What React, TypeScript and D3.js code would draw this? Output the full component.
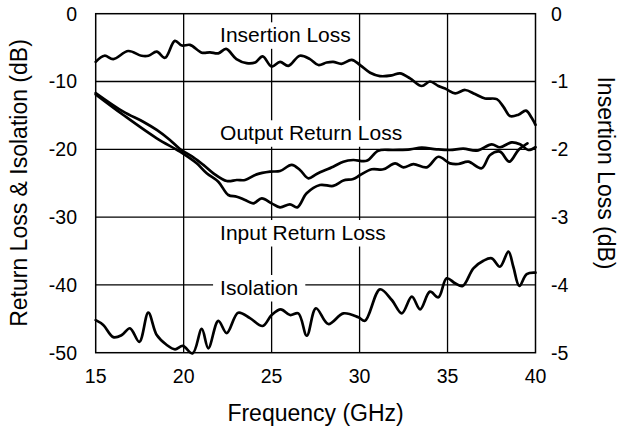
import { useLayoutEffect, useRef, useState } from 'react';
import { curveCatmullRom, line, scaleLinear } from 'd3';

const freqTicks = [15, 20, 25, 30, 35, 40];
const lossTicks = [0, -10, -20, -30, -40, -50];
const insertionTicks = [0, -1, -2, -3, -4, -5];

// insertion loss, read against the right axis (dB)
const insertionFreq = [15, 15.5, 16, 16.85, 17.6, 18, 18.47, 18.94, 19.5, 19.9, 20.36, 21.03, 21.5, 21.97, 22.41, 23, 23.58, 24.06, 24.49, 25, 25.48, 25.95, 26.6, 27.18, 27.66, 28.13, 28.5, 28.97, 29.55, 30.03, 30.6, 31.16, 31.83, 32.3, 32.87, 33.53, 34, 34.48, 34.95, 35.43, 36, 36.56, 37.13, 37.8, 38.17, 38.55, 39.03, 39.46, 39.79, 40];
const insertionLoss = [-0.71, -0.62, -0.67, -0.55, -0.62, -0.62, -0.56, -0.65, -0.4, -0.47, -0.46, -0.575, -0.57, -0.585, -0.52, -0.67, -0.73, -0.72, -0.63, -0.78, -0.71, -0.77, -0.62, -0.67, -0.757, -0.72, -0.71, -0.74, -0.68, -0.757, -0.87, -0.92, -0.91, -0.88, -0.953, -1.066, -1.0, -1.066, -1.116, -1.175, -1.125, -1.185, -1.25, -1.26, -1.37, -1.51, -1.49, -1.43, -1.54, -1.64];

const outputFreq = [15, 16.57, 17.7, 18.47, 19.22, 19.79, 20.55, 21.12, 21.69, 22.45, 23.02, 23.49, 24.15, 24.91, 25.48, 26.14, 26.61, 27.09, 27.56, 28.5, 29.08, 29.64, 30.4, 31.06, 31.92, 32.87, 33.53, 34.38, 35.14, 35.9, 36.66, 37.51, 37.98, 38.65, 39.12, 39.59, 40];
const outputLoss = [-11.7, -14.45, -15.93, -17.15, -18.63, -19.96, -21.18, -22.3, -23.54, -24.68, -24.53, -24.53, -23.7, -23.3, -23.2, -22.3, -23.05, -24.28, -23.64, -22.57, -21.83, -21.58, -21.7, -20.2, -20.1, -20.0, -19.76, -20.0, -20.1, -19.9, -20.2, -19.26, -19.7, -18.97, -19.26, -20.1, -19.7];

const inputFreq = [15, 16.57, 18.47, 19.79, 20.74, 21.31, 21.97, 22.54, 23.02, 23.49, 23.96, 24.44, 25, 25.48, 26.04, 26.46, 26.99, 27.75, 28.5, 29.08, 29.64, 30.03, 30.69, 31.35, 32.02, 32.49, 33.06, 33.82, 34.48, 35.14, 35.61, 36.18, 36.94, 37.42, 37.98, 38.51, 39.03, 39.54];
const inputLoss = [-11.9, -14.94, -18.38, -20.35, -22.07, -23.54, -24.78, -26.74, -26.99, -27.48, -27.97, -27.23, -27.97, -28.56, -28.11, -28.56, -26.49, -25.27, -25.4, -24.6, -24.38, -23.8, -22.95, -22.95, -22.07, -22.66, -22.2, -22.66, -21.1, -22.07, -22.17, -21.83, -22.8, -20.84, -20.35, -21.83, -20.1, -19.12];

const isolationFreq = [15, 15.43, 16, 16.48, 16.95, 17.48, 17.99, 18.47, 19.04, 19.51, 19.95, 20.51, 21.03, 21.4, 21.97, 22.45, 23.1, 23.77, 24.49, 25, 25.52, 26.05, 26.52, 27, 27.52, 28.22, 29.08, 29.93, 30.31, 31.16, 31.83, 32.4, 32.97, 33.44, 34, 34.48, 34.95, 35.43, 35.86, 36.47, 37.04, 37.51, 37.98, 38.46, 38.74, 39.08, 39.5, 40];
const isolationLoss = [-45.2, -45.9, -47.7, -47.4, -46.4, -48.4, -44.1, -47.4, -48.86, -49.5, -49.0, -50.1, -46.5, -49.35, -45.3, -47.1, -44.1, -44.9, -46.06, -44.44, -43.6, -44.44, -44.2, -47.5, -43.45, -45.77, -44.2, -44.78, -45.28, -40.65, -42.23, -44.2, -41.74, -43.6, -41.0, -41.83, -39.03, -39.76, -40.16, -37.55, -36.43, -36.08, -37.32, -35.1, -37.32, -40.16, -38.4, -38.2];

const curveLabels = ['Insertion Loss', 'Output Return Loss', 'Input Return Loss', 'Isolation'];
const curveLabelLevels = [-4.22, -18.67, -33.38, -41.49];
const curveLabelFreq = 22.07;

const FONT = '"Liberation Sans", Arial, Helvetica, sans-serif';

function CurveLabel({ x, y, text }: { x: number; y: number; text: string }) {
  const ref = useRef<SVGTextElement>(null);
  const [width, setWidth] = useState(0);

  useLayoutEffect(() => {
    if (ref.current) setWidth(ref.current.getBBox().width);
  }, [text]);

  return (
    <g>
      {width > 0 && (
        <rect x={x - 7} y={y - 20} width={width + 14} height={26.5} fill="#fff" />
      )}
      <text ref={ref} x={x} y={y} fontSize={21} fill="#000">
        {text}
      </text>
    </g>
  );
}

export default function App() {
  const width = 620;
  const height = 431;
  const margin = { top: 13.7, right: 84.5, bottom: 78.3, left: 95.7 };
  const innerRight = width - margin.right;
  const innerBottom = height - margin.bottom;

  const x = scaleLinear().domain([15, 40]).range([margin.left, innerRight]);
  const y = scaleLinear().domain([-50, 0]).range([innerBottom, margin.top]);
  const yRight = scaleLinear().domain([-5, 0]).range([innerBottom, margin.top]);

  const path = (fs: number[], vs: number[], scale: (v: number) => number) =>
    line<number>()
      .x((f) => x(f))
      .y((_, i) => scale(vs[i]))
      .curve(curveCatmullRom.alpha(0.5))(fs) || '';

  const series = [
    path(insertionFreq, insertionLoss, yRight),
    path(outputFreq, outputLoss, y),
    path(inputFreq, inputLoss, y),
    path(isolationFreq, isolationLoss, y),
  ];

  return (
    <svg
      width={width}
      height={height}
      viewBox={`0 0 ${width} ${height}`}
      style={{ position: 'absolute', left: 0, top: 0, background: '#fff' }}
      fontFamily={FONT}
    >
      <rect width={width} height={height} fill="#fff" />

      {/* grid */}
      {freqTicks.slice(1, -1).map((f) => (
        <line key={`v${f}`} x1={x(f)} x2={x(f)} y1={margin.top} y2={innerBottom} stroke="#000" strokeWidth={1.3} />
      ))}
      {lossTicks.slice(1, -1).map((v) => (
        <line key={`h${v}`} x1={margin.left} x2={innerRight} y1={y(v)} y2={y(v)} stroke="#000" strokeWidth={1.3} />
      ))}

      {curveLabels.map((label, i) => (
        <CurveLabel key={label} x={x(curveLabelFreq)} y={y(curveLabelLevels[i])} text={label} />
      ))}

      {series.map((d, i) => (
        <path key={i} d={d} fill="none" stroke="#000" strokeWidth={2.7} strokeLinejoin="round" strokeLinecap="round" />
      ))}

      <rect
        x={margin.left}
        y={margin.top}
        width={innerRight - margin.left}
        height={innerBottom - margin.top}
        fill="none"
        stroke="#000"
        strokeWidth={1.5}
      />

      {/* ticks */}
      {freqTicks.map((f) => (
        <text key={`xt${f}`} x={x(f)} y={383.3} textAnchor="middle" fontSize={19.5}>
          {f}
        </text>
      ))}
      {lossTicks.map((v) => (
        <text key={`yl${v}`} x={77} y={y(v)} dy="0.35em" textAnchor="end" fontSize={19.5}>
          {v}
        </text>
      ))}
      {insertionTicks.map((v) => (
        <text key={`yr${v}`} x={551} y={yRight(v)} dy="0.35em" textAnchor="start" fontSize={19.5}>
          {v}
        </text>
      ))}

      {/* axis titles */}
      <text x={(margin.left + innerRight) / 2} y={421} textAnchor="middle" fontSize={23}>
        Frequency (GHz)
      </text>
      <text transform="translate(27, 183) rotate(-90)" textAnchor="middle" fontSize={23}>
        Return Loss &amp; Isolation (dB)
      </text>
      <text transform="translate(598, 173) rotate(90)" textAnchor="middle" fontSize={23}>
        Insertion Loss (dB)
      </text>
    </svg>
  );
}
